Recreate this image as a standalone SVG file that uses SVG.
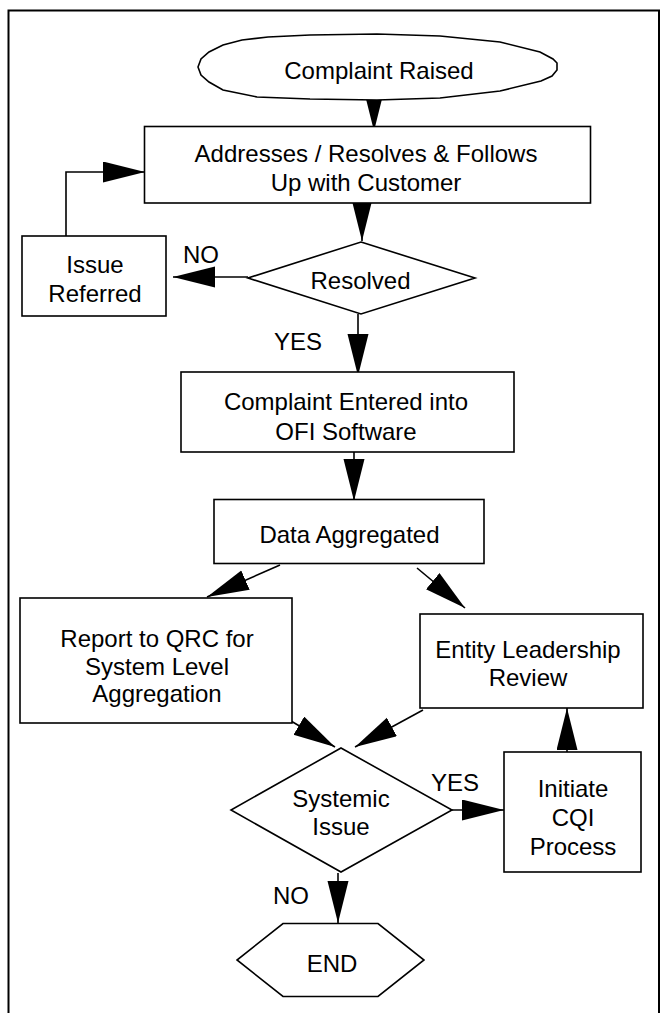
<svg xmlns="http://www.w3.org/2000/svg" width="660" height="1013" viewBox="0 0 660 1013">
  <style>
    .shape { fill: #ffffff; stroke: #000000; stroke-width: 1.6; }
    .frame { fill: none; stroke: #000000; stroke-width: 2; }
    .conn { fill: none; stroke: #000000; stroke-width: 1.6; marker-end: url(#arrow); }
    text { font-family: "Liberation Sans", Arial, sans-serif; font-size: 24px; fill: #000000; }
    .c { text-anchor: middle; }
  </style>
  <defs>
    <marker id="arrow" markerUnits="userSpaceOnUse" markerWidth="42" markerHeight="22" refX="42" refY="10.5" orient="auto">
      <path d="M0,0 L42,10.5 L0,21 Z" fill="#000000"/>
    </marker>
  </defs>

  <!-- page frame -->
  <path class="frame" d="M8.5,1013 V10.5 H659 V1013"/>

  <!-- connectors -->
  <g id="connectors">
    <line class="conn" x1="374" y1="98" x2="374" y2="131"/>
    <line class="conn" x1="362" y1="203" x2="362" y2="241"/>
    <line class="conn" x1="248" y1="277" x2="173" y2="277"/>
    <polyline class="conn" points="66,245 66,172 145,172"/>
    <line class="conn" x1="358" y1="314" x2="358" y2="376"/>
    <line class="conn" x1="354" y1="447" x2="354" y2="501"/>
    <line class="conn" x1="280" y1="565" x2="207" y2="597"/>
    <line class="conn" x1="417" y1="568" x2="465" y2="608"/>
    <line class="conn" x1="291" y1="721" x2="335" y2="747"/>
    <line class="conn" x1="423" y1="710" x2="355" y2="747"/>
    <line class="conn" x1="452" y1="810" x2="504" y2="810"/>
    <line class="conn" x1="567" y1="767" x2="567" y2="708"/>
    <line class="conn" x1="338" y1="873" x2="338" y2="923"/>
  </g>

  <!-- start terminal -->
  <g id="complaint-raised">
    <polygon class="shape" points="198,67 201,59 209,52 223,45 242,40 268,37 310,35 377,34 440,36 500,42 540,52 553,59 557,63 557,70 552,76 541,81 500,91 440,98 377,100 310,99 257,97 223,90 209,82 201,75"/>
    <text class="c" x="379" y="79">Complaint Raised</text>
  </g>

  <g id="addresses">
    <rect class="shape" x="144.5" y="126.5" width="446" height="76.5"/>
    <text class="c" x="366" y="162">Addresses / Resolves &amp; Follows</text>
    <text class="c" x="366" y="190.5">Up with Customer</text>
  </g>

  <g id="issue-referred">
    <rect class="shape" x="22" y="236" width="144" height="80"/>
    <text class="c" x="95" y="273">Issue</text>
    <text class="c" x="95" y="301.5">Referred</text>
  </g>

  <g id="resolved">
    <polygon class="shape" points="361,242 475,278 361,314 248,278"/>
    <text class="c" x="360.5" y="289">Resolved</text>
  </g>
  <text x="183" y="263">NO</text>
  <text x="274" y="350">YES</text>

  <g id="complaint-entered">
    <rect class="shape" x="181" y="372" width="333" height="80"/>
    <text class="c" x="346" y="410">Complaint Entered into</text>
    <text class="c" x="346" y="439.5">OFI Software</text>
  </g>

  <g id="data-aggregated">
    <rect class="shape" x="214" y="499.5" width="270" height="64"/>
    <text class="c" x="349.5" y="543">Data Aggregated</text>
  </g>

  <g id="report-qrc">
    <rect class="shape" x="20" y="598" width="272" height="125"/>
    <text class="c" x="157" y="647">Report to QRC for</text>
    <text class="c" x="157" y="674.5">System Level</text>
    <text class="c" x="157" y="702">Aggregation</text>
  </g>

  <g id="entity-review">
    <rect class="shape" x="420" y="614" width="223" height="94"/>
    <text class="c" x="528" y="658">Entity Leadership</text>
    <text class="c" x="528" y="686">Review</text>
  </g>

  <g id="systemic-issue">
    <polygon class="shape" points="341,748 452,810 341,872 231,810"/>
    <text class="c" x="341" y="807">Systemic</text>
    <text class="c" x="341" y="835">Issue</text>
  </g>
  <text x="431" y="791">YES</text>

  <g id="initiate-cqi">
    <rect class="shape" x="504" y="752" width="137" height="120"/>
    <text class="c" x="573" y="797">Initiate</text>
    <text class="c" x="573" y="826">CQI</text>
    <text class="c" x="573" y="855">Process</text>
  </g>
  <text x="273" y="904">NO</text>

  <g id="end">
    <polygon class="shape" points="283,923.5 378,923.5 424,960 378,996.5 283,996.5 237,960"/>
    <text class="c" x="332" y="972">END</text>
  </g>
</svg>
